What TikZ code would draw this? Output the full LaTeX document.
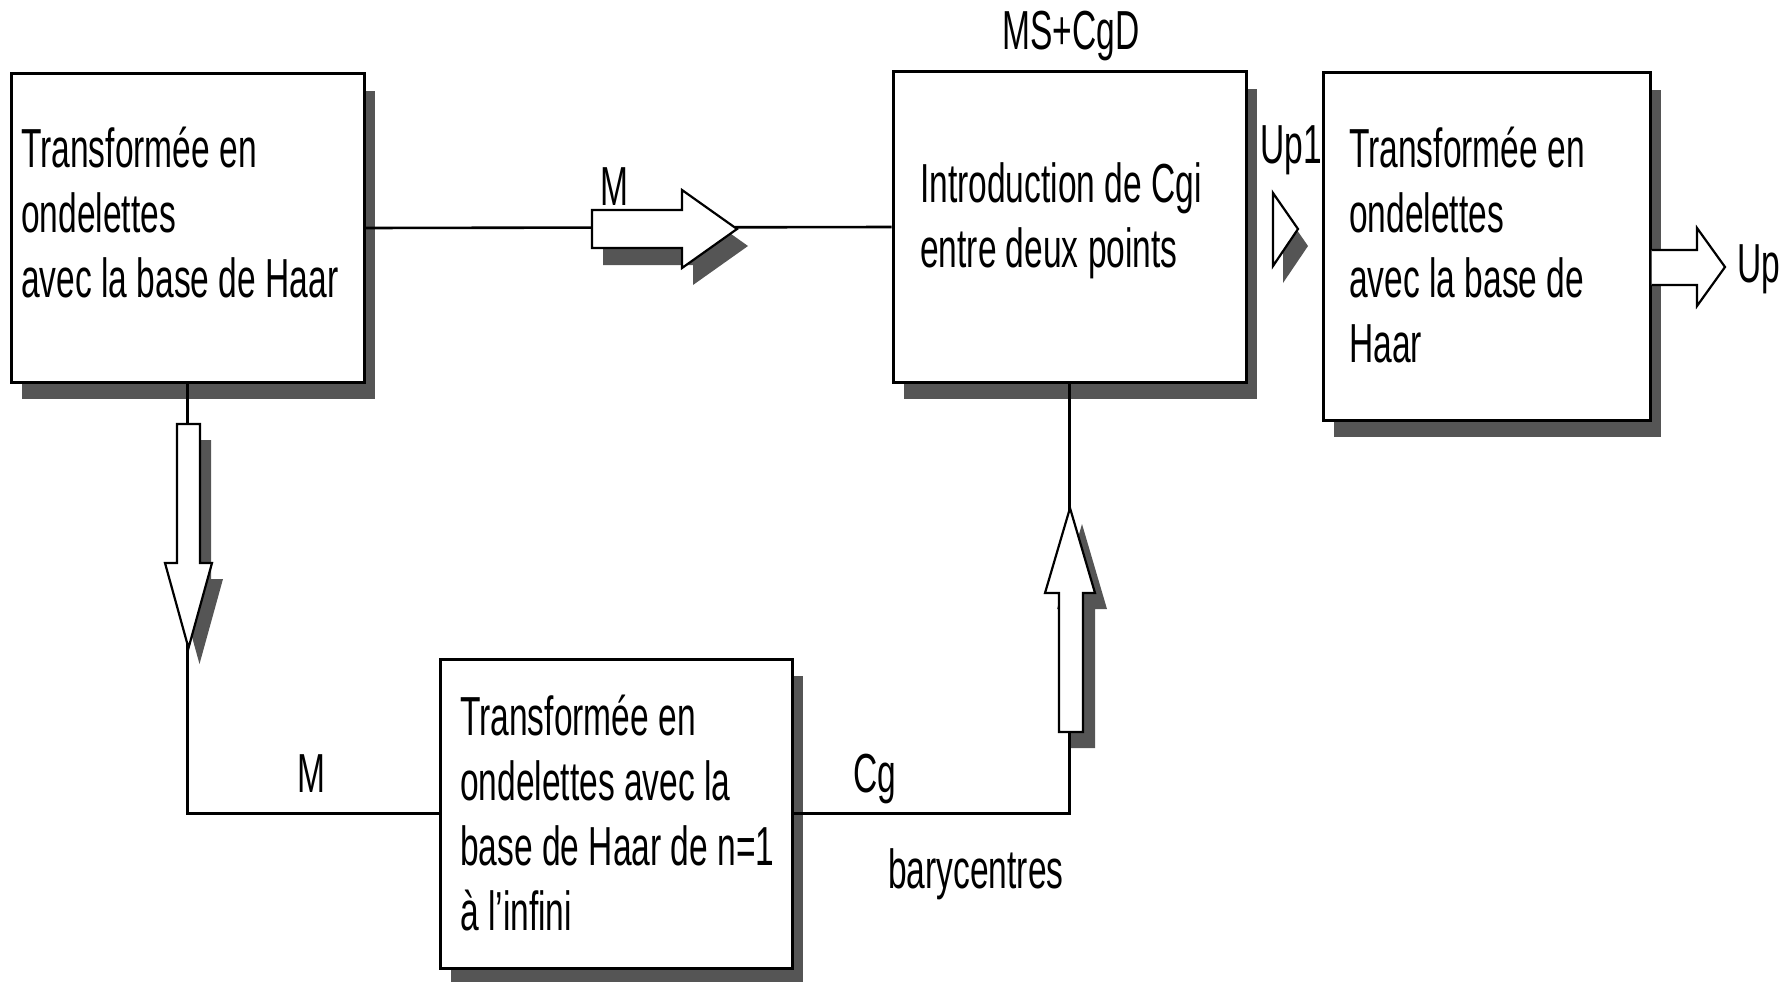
\documentclass[tikz,border=0pt]{standalone}
\usepackage{fontspec}
\usetikzlibrary{shadows}
\newfontfamily\nf[FakeStretch=0.61]{Liberation Sans}
\definecolor{shgray}{HTML}{555555}
\tikzset{
  shd/.style={drop shadow={shadow xshift=11pt,shadow yshift=-17pt,fill=shgray,opacity=1}},
  box/.style={draw=black,line width=3pt,fill=white,inner sep=0pt,shd},
  txt/.style={font=\nf\fontsize{55}{65}\selectfont,align=left,inner sep=0pt,anchor=base west},
  lbl/.style={font=\nf\fontsize{55}{65}\selectfont,inner sep=0pt},
  conn/.style={draw=black,line width=2.6pt},
  blockarrow/.style={draw=black,line width=2.2pt,fill=white,line join=miter},
}
\begin{document}
\begin{tikzpicture}[x=1pt,y=-1pt]
\useasboundingbox (0,0) rectangle (1783,982);
% boxes
\node[box,minimum width=353pt,minimum height=308pt] (b1) at (187.5,228) {};
\node[box,minimum width=353pt,minimum height=310pt] (b2) at (1069.5,227) {};
\node[box,minimum width=327pt,minimum height=347pt] (b3) at (1486.5,246.5) {};
\node[box,minimum width=352pt,minimum height=309pt] (b4) at (616,813.5) {};
% connectors
\draw[conn] (b1.east) -- (b2.west);
\draw[conn] (b1.south) -- (b1.south |- b4.west) -- (b4.west);
\draw[conn] (b4.east) -| (b2.south);
% block arrows
\filldraw[blockarrow,shd] (592,210) -- (682,210) -- (682,190) -- (737,229) -- (682,268) -- (682,248) -- (592,248) -- cycle;
\filldraw[blockarrow,drop shadow={shadow xshift=11pt,shadow yshift=-16pt,fill=shgray,opacity=1}] (177,424) -- (200,424) -- (200,563) -- (212,563) -- (188.5,648) -- (165,563) -- (177,563) -- cycle;
\filldraw[blockarrow,drop shadow={shadow xshift=12pt,shadow yshift=-16pt,fill=shgray,opacity=1}] (1059,732) -- (1083,732) -- (1083,593) -- (1095,593) -- (1070,508) -- (1045,593) -- (1059,593) -- cycle;
\filldraw[blockarrow,drop shadow={shadow xshift=10pt,shadow yshift=-17pt,fill=shgray,opacity=1}] (1273,193) -- (1298,229) -- (1273,266) -- cycle;
\filldraw[blockarrow] (b3.east |- 0,250) -- (1697,250) -- (1697,228) -- (1725,267) -- (1697,306) -- (1697,285) -- (b3.east |- 0,285);
% box texts (base anchor = baseline of the last line)
\node[txt] (t1) at (21,297) {Transformée en\\ondelettes\\avec la base de Haar};
\node[txt] (t2) at (920,267) {Introduction de Cgi\\entre deux points};
\node[txt] (t3) at (1349,362) {Transformée en\\ondelettes\\avec la base de\\Haar};
\node[txt] (t4) at (460,930) {Transformée en\\ondelettes avec la\\base de Haar de n=1\\à l’infini};
% labels
\node[lbl,anchor=base] (lms) at (1071,50) {MS+CgD};
\node[lbl,anchor=base] (lm1) at (614,205) {M};
\node[lbl,anchor=base west] (lup1) at (1260,163) {Up1};
\node[lbl,anchor=base west] (lup) at (1737,282) {Up};
\node[lbl,anchor=base] (lm2) at (311.5,792) {M};
\node[lbl,anchor=base west] (lcg) at (853,792) {Cg};
\node[lbl,anchor=base west] (lbary) at (888,888) {barycentres};
\end{tikzpicture}
\end{document}
